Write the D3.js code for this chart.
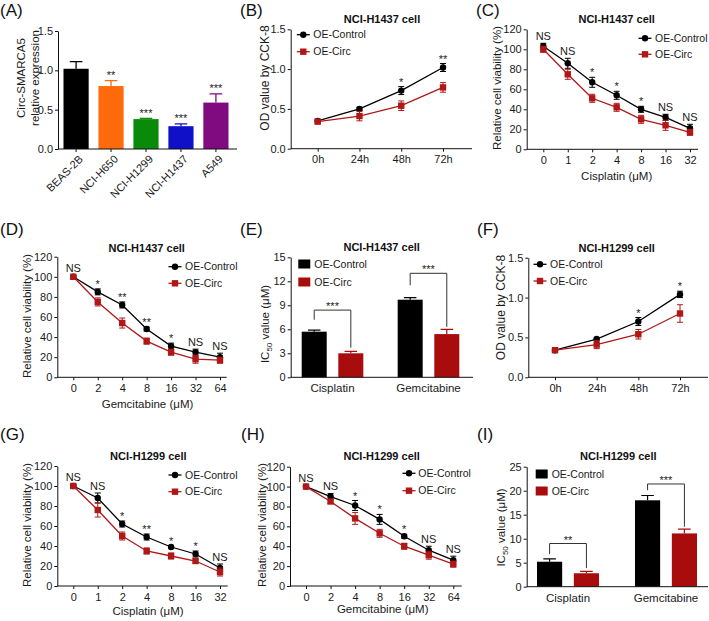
<!DOCTYPE html>
<html><head><meta charset="utf-8">
<script src="https://cdn.jsdelivr.net/npm/d3@7"></script>
<style>body{margin:0;background:#fff}</style>
</head><body><svg id="c" width="709" height="621"></svg>
<script>
// ---------------- DATA ----------------
const cellLines = ["BEAS-2B","NCI-H650","NCI-H1299","NCI-H1437","A549"];
const exprValues = [1.02,0.80,0.38,0.29,0.59];
const exprErr = [0.09,0.07,0.01,0.03,0.11];
const exprSig = ["","**","***","***","***"];
const exprColors = ["#000000","#ff6a0d","#0a8a0a","#1010c8","#800a80"];

const timeLabels = ["0h","24h","48h","72h"];
const cisplatinDoses = ["0","1","2","4","8","16","32"];
const gemcitabineDoses = ["0","2","4","8","16","32","64"];
const drugs = ["Cisplatin","Gemcitabine"];
const seriesNames = ["OE-Control","OE-Circ"];

// (B) NCI-H1437 CCK-8
const bCtrl = [0.35,0.50,0.73,1.02], bCtrlErr = [0.01,0.02,0.05,0.05];
const bCirc = [0.34,0.41,0.54,0.77], bCircErr = [0.02,0.06,0.06,0.06];
const bSig = ["","","*","**"];
// (C) NCI-H1437 cisplatin
const cCtrl = [103,86,67,54,40,32,21], cCtrlErr = [3,5,5,4,3,3,4];
const cCirc = [100,75,51,42,30,24,17], cCircErr = [3,5,4,4,4,5,3];
const cSig = ["NS","NS","*","*","*","NS","NS"];
// (D) NCI-H1437 gemcitabine
const dCtrl = [100,85,72,48,31,25,20], dCtrlErr = [1,3,3,2,3,3,4];
const dCirc = [100,75,54,36,25,18,17], dCircErr = [1,4,5,3,3,4,3];
const dSig = ["NS","*","**","**","*","NS","NS"];
// (E) NCI-H1437 IC50
const eCtrl = [5.7,9.7], eCtrlErr = [0.2,0.25];
const eCirc = [3.0,5.4], eCircErr = [0.25,0.6];
const eSig = ["***","***"];
const eBracketTop = [8.4,13.0], eBracketLeft = [7.2,11.5], eBracketRight = [3.7,6.3];
// (F) NCI-H1299 CCK-8
const fCtrl = [0.34,0.48,0.70,1.04], fCtrlErr = [0.01,0.01,0.05,0.04];
const fCirc = [0.34,0.41,0.54,0.80], fCircErr = [0.01,0.05,0.06,0.11];
const fSig = ["","","*","*"];
// (G) NCI-H1299 cisplatin
const gCtrl = [100,88,62,49,39,32,18], gCtrlErr = [1,5,3,3,1,3,4];
const gCirc = [100,76,50,35,30,25,14], gCircErr = [2,7,4,3,3,2,4];
const gSig = ["NS","NS","*","**","*","*","NS"];
// (H) NCI-H1299 gemcitabine
const hCtrl = [100,90,81,67,50,36,26], hCtrlErr = [1,3,5,5,2,4,4];
const hCirc = [100,85,68,53,40,31,22], hCircErr = [1,2,6,4,3,4,3];
const hSig = ["NS","NS","*","*","*","NS","NS"];
// (I) NCI-H1299 IC50
const iCtrl = [5.2,18.0], iCtrlErr = [0.6,1.0];
const iCirc = [2.8,11.1], iCircErr = [0.4,0.9];
const iSig = ["**","***"];
const iBracketTop = [9.0,21.4], iBracketLeft = [6.8,20.1], iBracketRight = [3.9,12.5];

// ---------------- DRAWING ----------------
const FONT = "Arial, 'Liberation Sans', Helvetica, sans-serif";
const RED = "#a80c0c";
const LINE_RED = "#b01818";
const svg = d3.select("#c").style("font-family", FONT);
svg.append("rect").attr("width",709).attr("height",621).attr("fill","#fff");

function styleAxis(g){
  g.selectAll("path,line").attr("stroke","#111").attr("stroke-width",1);
  g.selectAll("text").attr("font-size",11).attr("fill","#1a1a1a").attr("font-family",FONT);
}
function panelLabel(t,x,y){
  svg.append("text").attr("x",x).attr("y",y).attr("font-size",17).attr("fill","#111").text(t);
}
function title(t,x,y){
  svg.append("text").attr("x",x).attr("y",y).attr("text-anchor","middle")
    .attr("font-size",11).attr("font-weight","bold").attr("fill","#111").text(t);
}
function xTitle(t,x,y){
  svg.append("text").attr("x",x).attr("y",y).attr("text-anchor","middle")
    .attr("font-size",11.5).attr("fill","#1a1a1a").text(t);
}
function yTitle(t,x,y,size){
  svg.append("text").attr("transform",`translate(${x},${y}) rotate(-90)`)
    .attr("text-anchor","middle").attr("font-size",size||11.5).attr("fill","#1a1a1a").text(t);
}
function yTitleIC(x,y){
  const t = svg.append("text").attr("transform",`translate(${x},${y}) rotate(-90)`)
    .attr("text-anchor","middle").attr("font-size",11.5).attr("fill","#1a1a1a");
  t.append("tspan").text("IC");
  t.append("tspan").attr("font-size",8).attr("dy",3).text("50");
  t.append("tspan").attr("dy",-3).text(" value (\u03bcM)");
}
function yAxis(y,x0,ticks,fmt){
  const g = svg.append("g").attr("transform",`translate(${x0},0)`)
    .call(d3.axisLeft(y).tickValues(ticks).tickFormat(fmt).tickSize(3).tickPadding(2).tickSizeOuter(0));
  styleAxis(g);
}
function xAxisLine(yB,x0,xEnd){
  svg.append("line").attr("x1",x0).attr("x2",xEnd).attr("y1",yB).attr("y2",yB)
    .attr("stroke","#111").attr("stroke-width",1);
}

function lineChart(o){
  const y = d3.scaleLinear().domain([0,o.yMax]).range([o.yBottom,o.yTop]);
  const x = d3.scalePoint().domain(o.labels).range([o.xFirst,o.xLast]);
  yAxis(y,o.x0,o.yTicks,o.yFmt);
  const xa = svg.append("g").attr("transform",`translate(0,${o.yBottom})`)
    .call(d3.axisBottom(x).tickSize(3).tickPadding(4).tickSizeOuter(0));
  xa.select(".domain").remove();
  styleAxis(xa);
  xAxisLine(o.yBottom,o.x0,o.xEnd);

  const series = [
    {vals:o.ctrl, err:o.ctrlErr, color:"#000", shape:"circle"},
    {vals:o.circ, err:o.circErr, color:LINE_RED, shape:"square"}
  ];
  series.forEach(s=>{
    const g = svg.append("g");
    const pts = o.labels.map((l,i)=>({l, v:s.vals[i], e:s.err[i]}));
    g.append("path").datum(pts).attr("fill","none").attr("stroke",s.color).attr("stroke-width",1.3)
      .attr("d", d3.line().x(d=>x(d.l)).y(d=>y(d.v)));
    pts.forEach(d=>{
      const cx = x(d.l);
      g.append("path").attr("stroke",s.color).attr("stroke-width",1).attr("fill","none")
        .attr("d",`M${cx},${y(d.v-d.e)}V${y(d.v+d.e)}M${cx-3},${y(d.v+d.e)}H${cx+3}M${cx-3},${y(d.v-d.e)}H${cx+3}`);
      if(s.shape==="circle") g.append("circle").attr("cx",cx).attr("cy",y(d.v)).attr("r",3.2).attr("fill",s.color);
      else g.append("rect").attr("x",cx-3.2).attr("y",y(d.v)-3.2).attr("width",6.4).attr("height",6.4).attr("fill",s.color);
    });
  });
  // significance
  o.labels.forEach((l,i)=>{
    const s = o.sig[i]; if(!s) return;
    const top = Math.max(o.ctrl[i]+o.ctrlErr[i], o.circ[i]+o.circErr[i]);
    const yy = y(top) - (s==="NS" ? 3.5 : 1);
    svg.append("text").attr("x",x(l)).attr("y",yy).attr("text-anchor","middle")
      .attr("font-size",11).attr("fill","#1a1a1a").text(s);
  });
  // legend
  [["#000","circle"],[LINE_RED,"square"]].forEach((c,i)=>{
    const ly = o.legendY[i];
    svg.append("line").attr("x1",o.legendX-6.5).attr("x2",o.legendX+6.5).attr("y1",ly).attr("y2",ly)
      .attr("stroke",c[0]).attr("stroke-width",1.3);
    if(c[1]==="circle") svg.append("circle").attr("cx",o.legendX).attr("cy",ly).attr("r",3.2).attr("fill",c[0]);
    else svg.append("rect").attr("x",o.legendX-3.2).attr("y",ly-3.2).attr("width",6.4).attr("height",6.4).attr("fill",c[0]);
    svg.append("text").attr("x",o.legendTextX).attr("y",ly).attr("dy","0.36em")
      .attr("font-size",10.5).attr("fill","#1a1a1a").text(seriesNames[i]);
  });
}

function icChart(o){
  const y = d3.scaleLinear().domain([0,o.yMax]).range([o.yBottom,o.yTop]);
  const xg = d3.scaleBand().domain(drugs).range([o.gStart,o.gEnd]).paddingInner(o.pad).paddingOuter(0);
  const xs = d3.scaleBand().domain(seriesNames).range([0,xg.bandwidth()]).paddingInner(0.317);
  yAxis(y,o.x0,o.yTicks,d3.format("d"));
  const xa = svg.append("g").attr("transform",`translate(0,${o.yBottom})`)
    .call(d3.axisBottom(xg).tickSize(0).tickPadding(7));
  xa.select(".domain").remove();
  styleAxis(xa);
  xa.selectAll("text").attr("font-size",11.5);
  const bw = xs.bandwidth();
  drugs.forEach((dname,i)=>{
    const vals = [[o.ctrl[i],o.ctrlErr[i],"#000"],[o.circ[i],o.circErr[i],RED]];
    vals.forEach((v,j)=>{
      const bx = xg(dname)+xs(seriesNames[j]);
      const cx = bx+bw/2;
      svg.append("path").attr("stroke",v[2]).attr("stroke-width",1.2).attr("fill","none")
        .attr("d",`M${cx},${y(v[0])}V${y(v[0]+v[1])}M${cx-bw/4},${y(v[0]+v[1])}H${cx+bw/4}`);
      svg.append("rect").attr("x",bx).attr("y",y(v[0])).attr("width",bw).attr("height",o.yBottom-y(v[0])).attr("fill",v[2]);
    });
    const x1 = xg(dname)+xs(seriesNames[0])+bw/2, x2 = xg(dname)+xs(seriesNames[1])+bw/2;
    svg.append("path").attr("fill","none").attr("stroke","#333").attr("stroke-width",1)
      .attr("d",`M${x1},${y(o.bLeft[i])}V${y(o.bTop[i])}H${x2}V${y(o.bRight[i])}`);
    svg.append("text").attr("x",(x1+x2)/2).attr("y",y(o.bTop[i])).attr("text-anchor","middle")
      .attr("font-size",11).attr("fill","#1a1a1a").text(o.sig[i]);
  });
  xAxisLine(o.yBottom,o.x0,o.xEnd);
  // legend
  ["#000",RED].forEach((c,i)=>{
    const ly = o.legendY[i];
    svg.append("rect").attr("x",o.legendX).attr("y",ly-4.5).attr("width",12).attr("height",9).attr("fill",c);
    svg.append("text").attr("x",o.legendX+16).attr("y",ly).attr("dy","0.36em")
      .attr("font-size",10.5).attr("fill","#1a1a1a").text(seriesNames[i]);
  });
}

// ----- (A) -----
(function(){
  const yB=149, yT=31, x0=58;
  const y = d3.scaleLinear().domain([0,1.5]).range([yB,yT]);
  const x = d3.scaleBand().domain(cellLines).range([63.5,228.5]).paddingInner(0.28).paddingOuter(0);
  yAxis(y,x0,[0,0.5,1.0,1.5],d3.format(".1f"));
  const bw = x.bandwidth();
  cellLines.forEach((c,i)=>{
    const cx = x(c)+bw/2;
    svg.append("path").attr("stroke",exprColors[i]).attr("stroke-width",1.3).attr("fill","none")
      .attr("d",`M${cx},${y(exprValues[i])}V${y(exprValues[i]+exprErr[i])}M${cx-bw/4},${y(exprValues[i]+exprErr[i])}H${cx+bw/4}`);
    svg.append("rect").attr("x",x(c)).attr("y",y(exprValues[i])).attr("width",bw)
      .attr("height",yB-y(exprValues[i])).attr("fill",exprColors[i]);
    if(exprSig[i]) svg.append("text").attr("x",cx).attr("y",y(exprValues[i]+exprErr[i])-1.5)
      .attr("text-anchor","middle").attr("font-size",11).attr("fill","#1a1a1a").text(exprSig[i]);
  });
  const xa = svg.append("g").attr("transform",`translate(0,${yB})`)
    .call(d3.axisBottom(x).tickSize(3).tickFormat(""));
  xa.select(".domain").remove();
  styleAxis(xa);
  xAxisLine(yB,x0,237);
  cellLines.forEach(c=>{
    const cx = x(c)+bw/2;
    svg.append("text").attr("transform",`translate(${cx+5},${yB+8}) rotate(-45)`)
      .attr("text-anchor","end").attr("dy","0.35em").attr("font-size",11).attr("fill","#1a1a1a").text(c);
  });
  const t = svg.append("text").attr("transform","translate(0,78) rotate(-90)").attr("text-anchor","middle")
    .attr("font-size",11.5).attr("fill","#1a1a1a");
  t.append("tspan").attr("x",0).attr("y",25).text("Circ-SMARCA5");
  t.append("tspan").attr("x",0).attr("y",38.5).text("relative expression");
  panelLabel("(A)",0,16);
})();

// ----- (B) -----
lineChart({x0:290.7,xEnd:472,xFirst:317.7,xLast:443,yBottom:148.7,yTop:29.3,yMax:1.5,
  yTicks:[0,0.5,1.0,1.5],yFmt:d3.format(".1f"),labels:timeLabels,
  ctrl:bCtrl,ctrlErr:bCtrlErr,circ:bCirc,circErr:bCircErr,sig:bSig,
  legendX:303.3,legendTextX:313.3,legendY:[34.7,51.7]});
title("NCI-H1437 cell",382,22.7);
yTitle("OD value by CCK-8",269,78,12);
panelLabel("(B)",240,16);

// ----- (C) -----
lineChart({x0:526.7,xEnd:698,xFirst:543.3,xLast:690,yBottom:149.3,yTop:29.3,yMax:120,
  yTicks:[0,20,40,60,80,100,120],yFmt:d3.format("d"),labels:cisplatinDoses,
  ctrl:cCtrl,ctrlErr:cCtrlErr,circ:cCirc,circErr:cCircErr,sig:cSig,
  legendX:645,legendTextX:655,legendY:[38.3,54.3]});
title("NCI-H1437 cell",616.7,22.7);
yTitle("Relative cell viability (%)",501,88);
xTitle("Cisplatin (\u03bcM)",616.7,180);
panelLabel("(C)",476,16);

// ----- (D) -----
lineChart({x0:57.3,xEnd:226.7,xFirst:73.3,xLast:220,yBottom:377.3,yTop:256.7,yMax:120,
  yTicks:[0,20,40,60,80,100,120],yFmt:d3.format("d"),labels:gemcitabineDoses,
  ctrl:dCtrl,ctrlErr:dCtrlErr,circ:dCirc,circErr:dCircErr,sig:dSig,
  legendX:175,legendTextX:185,legendY:[266.7,283.3]});
title("NCI-H1437 cell",146.7,251.5);
yTitle("Relative cell viability (%)",31,316);
xTitle("Gemcitabine (\u03bcM)",147.5,408);
panelLabel("(D)",0,235);

// ----- (E) -----
icChart({x0:290.7,xEnd:473,gStart:301.7,gEnd:459.3,pad:0.358,yBottom:377.3,yTop:257.3,yMax:15,
  yTicks:[0,3,6,9,12,15],ctrl:eCtrl,ctrlErr:eCtrlErr,circ:eCirc,circErr:eCircErr,sig:eSig,
  bTop:eBracketTop,bLeft:eBracketLeft,bRight:eBracketRight,legendX:298.3,legendY:[264,282]});
title("NCI-H1437 cell",381.7,251);
yTitleIC(269,324);
panelLabel("(E)",240,235);

// ----- (F) -----
lineChart({x0:528.3,xEnd:708,xFirst:555,xLast:680,yBottom:377.3,yTop:257.7,yMax:1.5,
  yTicks:[0,0.5,1.0,1.5],yFmt:d3.format(".1f"),labels:timeLabels,
  ctrl:fCtrl,ctrlErr:fCtrlErr,circ:fCirc,circErr:fCircErr,sig:fSig,
  legendX:540,legendTextX:550,legendY:[264.3,281]});
title("NCI-H1299 cell",616.7,251.7);
yTitle("OD value by CCK-8",505,307.5,12);
panelLabel("(F)",477,235);

// ----- (G) -----
lineChart({x0:57.3,xEnd:227.7,xFirst:73.3,xLast:220,yBottom:586,yTop:466,yMax:120,
  yTicks:[0,20,40,60,80,100,120],yFmt:d3.format("d"),labels:cisplatinDoses,
  ctrl:gCtrl,ctrlErr:gCtrlErr,circ:gCirc,circErr:gCircErr,sig:gSig,
  legendX:175,legendTextX:185,legendY:[475,491.7]});
title("NCI-H1299 cell",148.3,460);
yTitle("Relative cell viability (%)",31,525);
xTitle("Cisplatin (\u03bcM)",148,615);
panelLabel("(G)",0,440);

// ----- (H) -----
lineChart({x0:290,xEnd:461.7,xFirst:306,xLast:453.3,yBottom:586,yTop:466.7,yMax:120,
  yTicks:[0,20,40,60,80,100,120],yFmt:d3.format("d"),labels:gemcitabineDoses,
  ctrl:hCtrl,ctrlErr:hCtrlErr,circ:hCirc,circErr:hCircErr,sig:hSig,
  legendX:409,legendTextX:418.3,legendY:[473.3,490.7]});
title("NCI-H1299 cell",381.7,460);
yTitle("Relative cell viability (%)",265.5,525);
xTitle("Gemcitabine (\u03bcM)",382.7,613);
panelLabel("(H)",241,440);

// ----- (I) -----
icChart({x0:526.7,xEnd:708,gStart:537,gEnd:697,pad:0.367,yBottom:586.7,yTop:466.7,yMax:25,
  yTicks:[0,5,10,15,20,25],ctrl:iCtrl,ctrlErr:iCtrlErr,circ:iCirc,circErr:iCircErr,sig:iSig,
  bTop:iBracketTop,bLeft:iBracketLeft,bRight:iBracketRight,legendX:535.7,legendY:[474,491]});
title("NCI-H1299 cell",618.3,460);
yTitleIC(505,527.5);
panelLabel("(I)",477,440);
</script></body></html>
